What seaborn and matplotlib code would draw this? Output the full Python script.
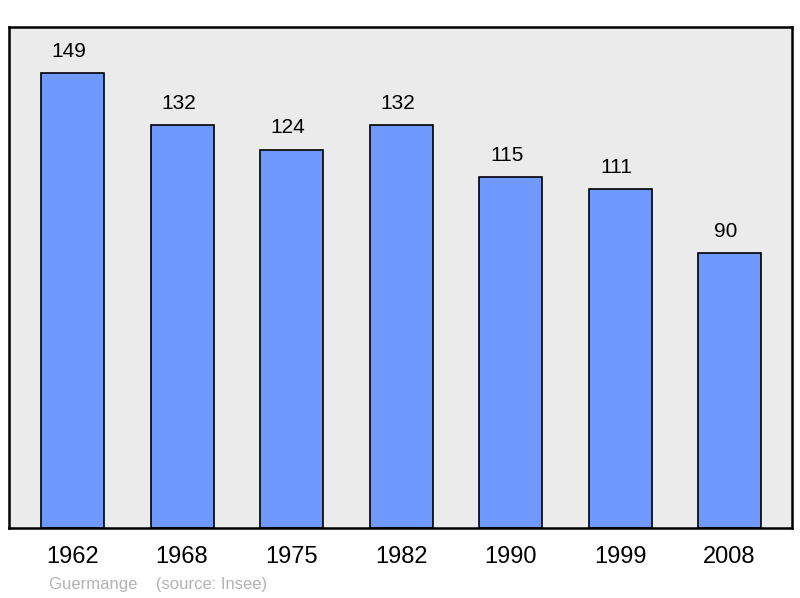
import matplotlib
matplotlib.use('Agg')
import matplotlib.pyplot as plt
import seaborn as sns
import pandas as pd

years = ['1962', '1968', '1975', '1982', '1990', '1999', '2008']
population = [149, 132, 124, 132, 115, 111, 90]

df = pd.DataFrame({'year': years, 'pop': population})

sns.set_style('white')
plt.rcParams['font.family'] = ['Liberation Sans', 'DejaVu Sans']

fig = plt.figure(figsize=(8, 5.98), dpi=100)
ax = fig.add_axes([0.01125, 0.1171, 0.97875, 0.8377])
ax.set_facecolor('#ebebeb')

sns.barplot(data=df, x='year', y='pop', color='#7099ff', saturation=1,
            width=0.575, edgecolor='black', linewidth=1.2, ax=ax)

# value labels, sitting a little left of the bar centre like the original
for i, v in enumerate(population):
    ax.annotate(str(v), (i, v), xytext=(-2.5, 9), textcoords='offset points',
                ha='center', va='bottom', fontsize=15, color='black')

ax.set_xlim(-0.58, 6.57)
ax.set_ylim(0, 164.2)
ax.set_yticks([])
ax.set_xlabel('')
ax.set_ylabel('')
ax.tick_params(axis='x', length=0, pad=13, labelsize=17, labelcolor='black')
for s in ax.spines.values():
    s.set_visible(True)
    s.set_color('black')
    s.set_linewidth(1.8)

fig.text(49 / 800, 1 - 584 / 598, 'Guermange    (source: Insee)',
         fontsize=12, color='#b3b3b3', ha='left', va='center')

fig.savefig('out.png', dpi=100)
